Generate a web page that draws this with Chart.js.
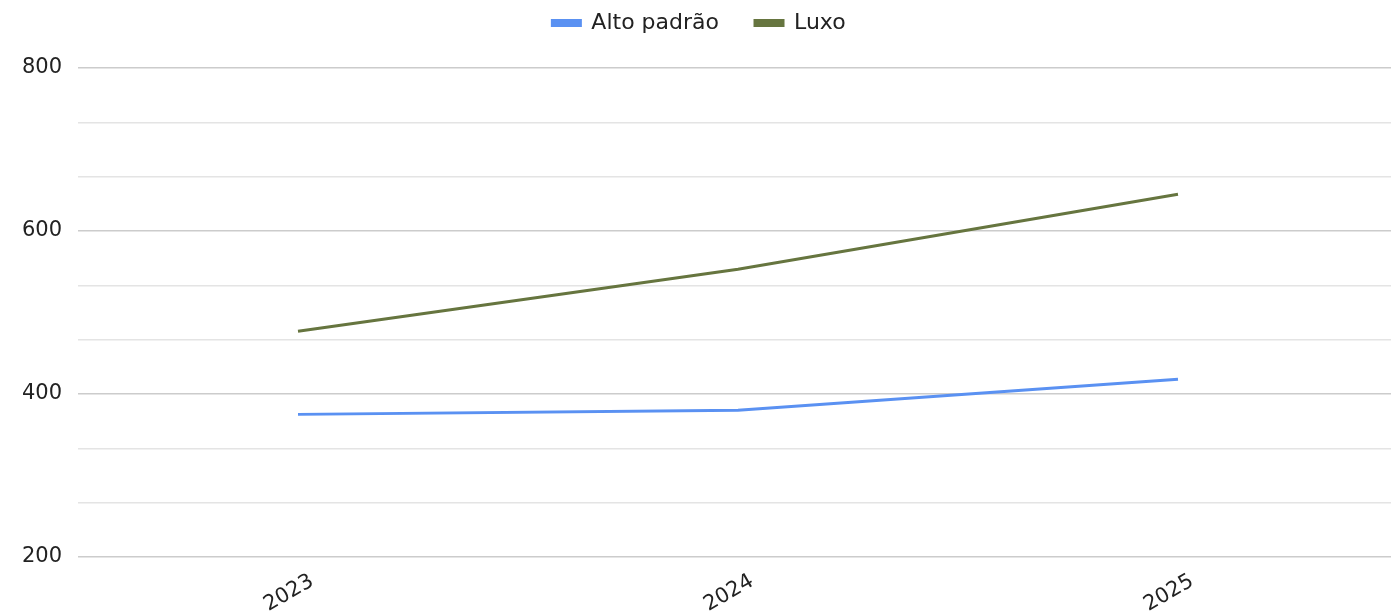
<!DOCTYPE html>
<html>
<head>
<meta charset="utf-8">
<script src="https://cdn.jsdelivr.net/npm/chart.js@4"></script>
<style>
  html, body { margin: 0; padding: 0; background: #fff; overflow: hidden; }
  #wrap { width: 1398px; height: 612px; }
</style>
</head>
<body>
<div id="wrap"><canvas id="chart" width="1398" height="612"></canvas></div>
<script>
const years = ['2023', '2024', '2025'];
const altoPadrao = [375, 380, 418];
const luxo = [477, 553, 645];
const yMin = 200;
const yMax = 800;

const isMajor = v => Math.abs(v / 200 - Math.round(v / 200)) < 1e-6;

Chart.defaults.font.family = '"DejaVu Sans", "Liberation Sans", sans-serif';
Chart.defaults.color = '#222';

// push plot area down below the legend
const legendGap = {
  id: 'legendGap',
  beforeInit(chart) {
    const fit = chart.legend.fit;
    chart.legend.fit = function () {
      fit.call(this);
      this.height = 92;
    };
  }
};

new Chart(document.getElementById('chart').getContext('2d'), {
  type: 'line',
  data: {
    labels: years,
    datasets: [
      { label: 'Alto padrão', data: altoPadrao, borderColor: '#5a91f2', backgroundColor: '#5a91f2',
        borderWidth: 3, pointRadius: 0, tension: 0 },
      { label: 'Luxo', data: luxo, borderColor: '#66753f', backgroundColor: '#66753f',
        borderWidth: 3, pointRadius: 0, tension: 0 }
    ]
  },
  plugins: [legendGap],
  options: {
    responsive: false,
    animation: false,
    layout: { padding: { top: -24, left: 0, right: 0, bottom: 0 } },
    plugins: {
      legend: {
        position: 'top',
        labels: { font: { size: 22 }, boxWidth: 28, boxHeight: 5, padding: 36, color: '#222' }
      },
      tooltip: { enabled: false }
    },
    scales: {
      x: {
        offset: true,
        grid: { display: false },
        border: { display: false },
        afterFit: s => { s.height = 55; },
        ticks: { font: { size: 21 }, minRotation: 30, maxRotation: 30, labelOffset: 14, padding: 4 }
      },
      y: {
        min: yMin,
        max: yMax,
        border: { display: false },
        afterFit: s => { s.width = 78; },
        grid: {
          drawTicks: false,
          color: ctx => isMajor(ctx.tick.value) ? '#cccccc' : '#e4e4e4',
          lineWidth: 1.5
        },
        ticks: {
          stepSize: 200 / 3,
          padding: 16,
          font: { size: 21 },
          callback: v => isMajor(v) ? Math.round(v) : ''
        }
      }
    }
  }
});
</script>
</body>
</html>
